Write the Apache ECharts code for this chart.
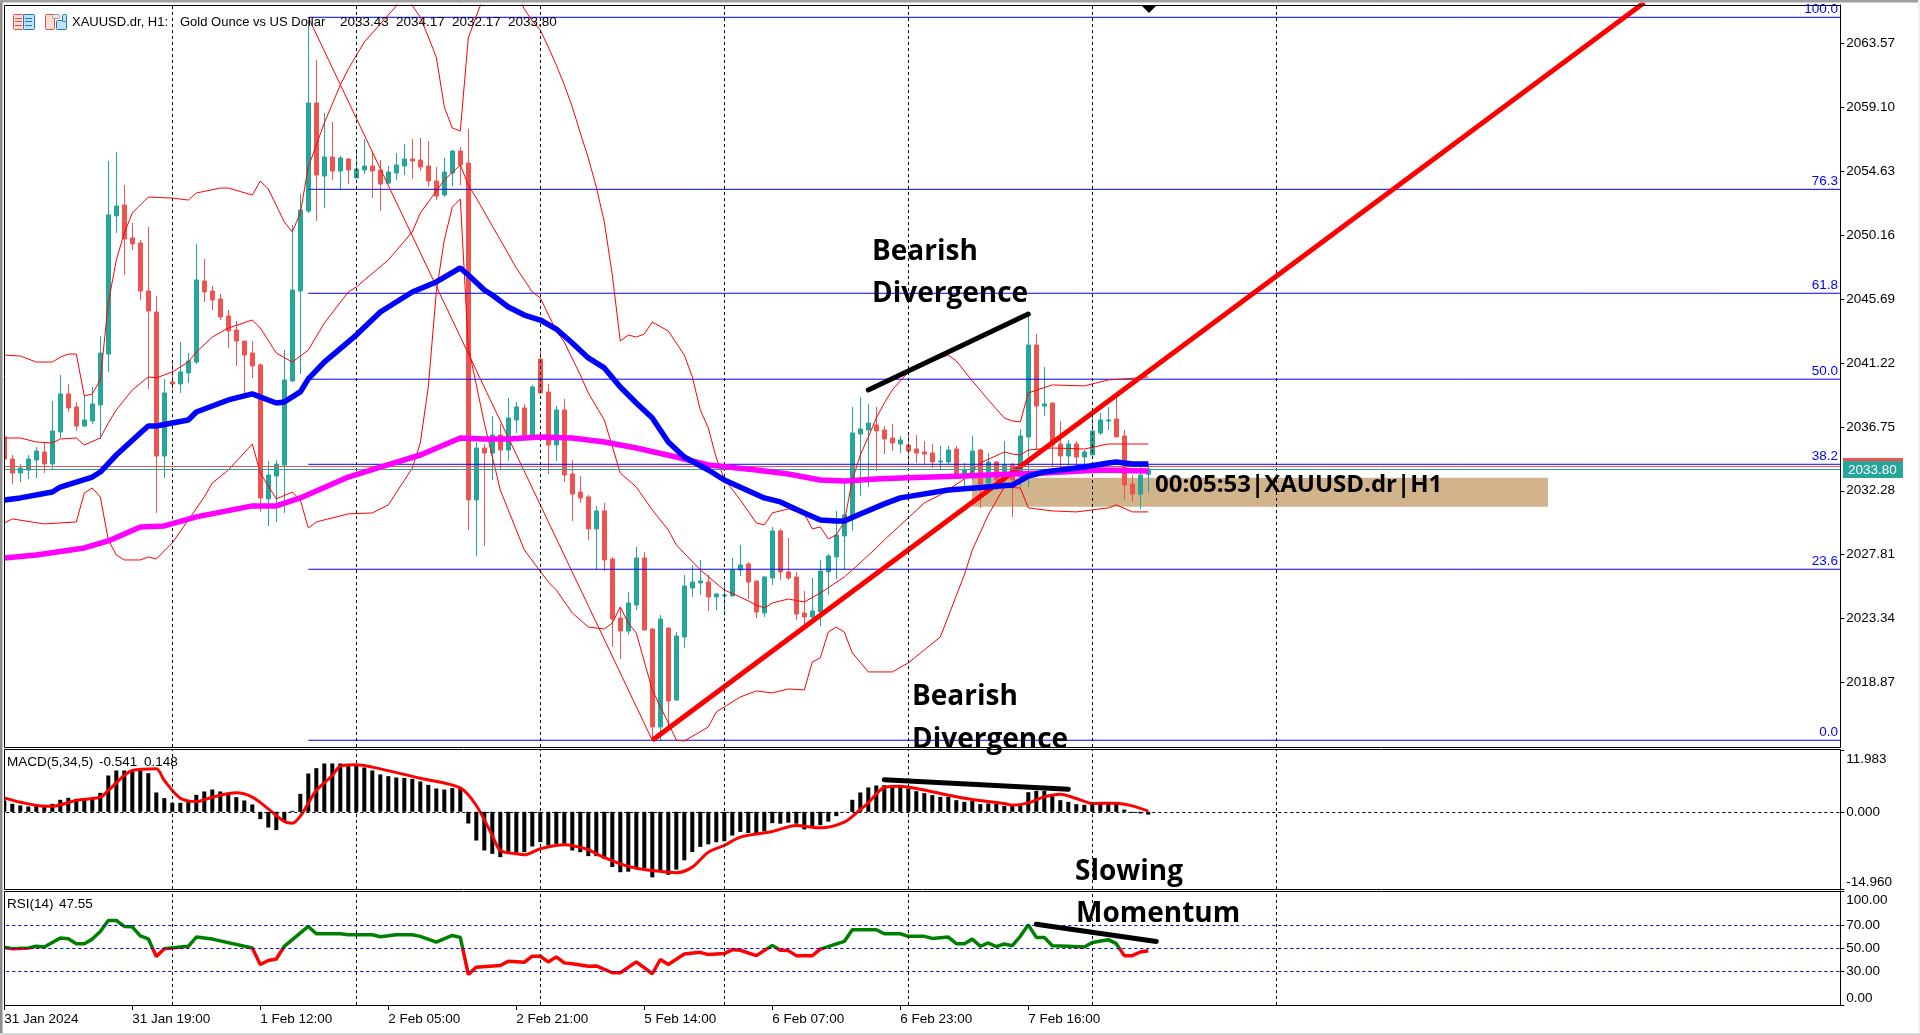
<!DOCTYPE html>
<html>
<head>
<meta charset="utf-8">
<title>XAUUSD.dr H1</title>
<style>
  html, body { margin: 0; padding: 0; background: #fff; }
  #chart { width: 1920px; height: 1035px; }
</style>
<script src="https://cdn.jsdelivr.net/npm/echarts@6/dist/echarts.min.js"></script>
</head>
<body>
<div id="chart"></div>
<script>
const opens = [
  2036.04,2034.50,2033.52,2033.73,2034.43,2034.99,2034.15,2036.39,2039.05,2038.14,
  2036.81,2037.16,2038.28,2041.84,2051.50,2052.26,2049.96,2049.61,2046.25,2044.78,
  2034.71,2039.89,2039.75,2040.52,2041.28,2046.95,2046.25,2045.69,2044.50,2043.52,
  2042.75,2041.91,2041.08,2031.71,2033.31,2034.08,2039.96,2046.25,2051.84,2059.40,
  2054.29,2055.62,2054.64,2055.48,2054.15,2054.71,2054.99,2054.71,2053.80,2054.50,
  2054.99,2055.48,2055.41,2054.99,2053.94,2052.96,2054.50,2056.04,2055.20,2031.64,
  2035.27,2034.92,2036.18,2035.13,2037.23,2038.07,2036.04,2041.49,2039.19,2035.48,
  2037.93,2033.45,2032.19,2031.85,2029.61,2030.87,2027.51,2023.38,2022.47,2024.29,
  2027.58,2022.61,2015.76,2022.68,2017.65,2022.05,2025.48,2025.83,2025.90,2024.85,
  2024.92,2024.92,2026.74,2027.16,2025.97,2023.73,2026.18,2029.47,2026.60,2026.25,
  2023.73,2023.45,2023.80,2026.60,2027.65,2029.12,2030.52,2036.25,2036.53,2036.88,
  2036.53,2035.97,2035.55,2035.48,2035.20,2034.99,2034.92,2034.29,2034.29,2035.20,
  2033.38,2033.52,2035.13,2032.82,2034.29,2033.03,2034.08,2033.24,2036.04,2042.47,
  2038.21,2038.42,2035.55,2034.71,2035.55,2034.64,2034.78,2036.32,2037.16,2037.30,
  2036.11,2032.75,2032.05,2033.43
];
const closes = [
  2034.50,2033.52,2033.87,2034.50,2035.06,2034.15,2036.46,2039.05,2038.07,2036.81,
  2037.23,2038.35,2041.91,2051.57,2052.19,2049.89,2049.54,2046.25,2044.85,2034.71,
  2039.12,2039.75,2040.59,2041.36,2047.02,2046.18,2045.62,2044.43,2043.45,2042.75,
  2041.77,2041.01,2031.78,2033.38,2034.15,2040.03,2046.32,2051.91,2059.40,2054.36,
  2055.62,2054.64,2055.55,2054.71,2054.78,2054.99,2054.64,2053.73,2054.57,2055.06,
  2055.48,2055.34,2054.92,2053.94,2052.89,2054.57,2056.04,2055.06,2031.64,2035.27,
  2034.92,2036.18,2035.13,2037.37,2038.14,2036.04,2039.54,2039.12,2035.48,2037.93,
  2033.38,2032.05,2031.78,2029.61,2030.87,2027.44,2023.31,2022.47,2024.43,2027.58,
  2022.54,2015.76,2023.31,2017.58,2022.12,2025.62,2025.90,2025.97,2024.85,2025.06,
  2024.99,2026.74,2027.09,2025.90,2023.80,2026.25,2029.47,2026.60,2026.18,2023.66,
  2023.45,2023.87,2026.67,2027.72,2029.19,2030.59,2036.32,2036.60,2037.02,2036.46,
  2035.90,2035.62,2035.83,2035.06,2034.92,2034.85,2034.29,2034.36,2035.13,2033.38,
  2033.73,2035.06,2032.75,2034.29,2033.03,2034.08,2033.03,2036.11,2042.47,2038.21,
  2038.35,2035.48,2034.71,2035.55,2034.64,2034.99,2036.46,2037.23,2037.23,2036.04,
  2032.68,2032.05,2033.38,2033.80
];
const highs = [
  2036.04,2034.78,2034.15,2034.78,2035.34,2035.69,2038.56,2040.38,2039.75,2038.49,
  2038.98,2039.54,2043.10,2055.34,2055.97,2053.66,2051.01,2049.82,2050.73,2045.90,
  2040.10,2041.42,2042.68,2041.91,2049.54,2048.49,2046.60,2046.04,2044.92,2044.15,
  2042.75,2042.75,2041.15,2034.36,2034.43,2042.12,2050.87,2053.03,2065.20,2062.40,
  2058.70,2058.07,2055.69,2055.55,2056.18,2056.88,2056.04,2055.41,2054.99,2055.90,
  2056.53,2056.88,2056.95,2056.74,2054.92,2055.55,2056.11,2056.32,2057.58,2035.69,
  2035.55,2037.51,2036.95,2038.77,2038.49,2038.35,2039.68,2042.19,2039.75,2038.21,
  2038.70,2034.43,2033.31,2031.99,2031.22,2031.43,2027.65,2024.15,2025.20,2028.35,
  2027.99,2022.68,2023.59,2022.68,2022.40,2026.39,2027.09,2027.44,2026.39,2025.13,
  2025.69,2027.58,2028.49,2027.30,2025.97,2026.32,2029.75,2029.61,2028.98,2026.60,
  2025.27,2026.18,2027.44,2027.86,2030.87,2032.82,2038.14,2038.84,2038.35,2038.14,
  2036.81,2036.95,2036.11,2036.18,2036.18,2035.76,2035.55,2035.41,2035.41,2035.41,
  2034.22,2036.11,2035.20,2034.92,2034.36,2035.76,2034.22,2036.60,2044.57,2043.24,
  2040.94,2038.42,2037.16,2035.83,2035.76,2035.13,2037.93,2037.72,2038.14,2038.77,
  2036.53,2033.38,2033.94,2034.17
];
const lows = [
  2034.50,2032.75,2032.89,2033.10,2033.17,2033.52,2033.73,2035.97,2037.79,2036.46,
  2036.74,2036.95,2035.90,2040.59,2050.31,2047.37,2049.12,2045.62,2039.40,2030.73,
  2033.17,2039.40,2039.12,2039.82,2041.15,2045.48,2044.92,2044.22,2042.26,2041.01,
  2039.12,2040.17,2030.80,2029.82,2030.10,2030.73,2039.89,2040.45,2051.70,2051.15,
  2052.05,2054.01,2053.38,2053.73,2054.15,2054.43,2052.75,2051.84,2053.73,2054.01,
  2054.36,2054.08,2054.64,2053.52,2052.61,2052.82,2053.59,2053.66,2029.54,2027.72,
  2028.42,2033.03,2033.73,2034.36,2036.32,2036.04,2036.04,2039.12,2033.45,2034.36,
  2032.89,2030.17,2031.43,2028.84,2026.74,2026.67,2021.36,2020.52,2022.19,2023.94,
  2022.54,2014.78,2014.78,2015.55,2017.58,2021.29,2024.85,2024.99,2023.87,2023.94,
  2023.59,2024.92,2026.32,2024.71,2023.38,2023.45,2025.69,2026.04,2026.04,2023.24,
  2022.61,2023.24,2022.82,2024.99,2026.11,2026.74,2029.47,2031.92,2032.54,2033.66,
  2034.85,2035.06,2034.92,2034.29,2034.22,2034.15,2033.87,2033.73,2034.08,2033.38,
  2032.54,2033.03,2031.08,2032.54,2032.33,2032.54,2030.45,2032.54,2032.54,2035.13,
  2037.51,2033.94,2033.94,2033.94,2033.94,2034.08,2034.78,2036.18,2036.53,2036.04,
  2031.64,2031.50,2031.01,2032.17
];

const bbUpper = [
  [0,2041.77],[2,2041.70],[4,2041.28],[6,2041.28],[7,2041.63],[8,2041.84],[9,2041.84],[10,2038.91],[11,2039.05],[12,2040.03],
  [13,2045.41],[14,2048.42],[15,2050.31],[16,2051.70],[18,2052.82],[21,2052.75],[23,2052.61],[24,2053.10],[27,2053.45],[28,2053.45],
  [31,2052.96],[32,2053.94],[33,2053.38],[35,2051.08],[36,2050.38],[37,2051.70],[38,2054.92],[40,2058.00],[42,2060.66],[43,2061.77],
  [45,2063.66],[49,2066.18],[50,2067.16],[51,2066.20],[52,2065.41],[54,2062.61],[55,2059.12],[56,2057.65],[57,2057.44],[58,2063.94],
  [59,2065.48],[60,2066.95],[62,2068.35],[63,2068.35],[64,2067.16],[65,2065.97],[66,2065.13],[67,2064.50],[68,2063.31],[69,2062.05],
  [70,2060.66],[71,2059.12],[72,2057.30],[73,2055.55],[74,2053.52],[75,2051.08],[76,2047.37],[77,2042.75],[78,2043.17],[79,2043.03],
  [80,2043.24],[81,2044.08],[83,2043.45],[84,2042.61],[85,2041.77],[86,2040.24],[87,2037.93],[88,2036.67],[89,2034.57],[90,2033.10],
  [92,2031.64],[94,2030.03],[95,2029.89],[96,2030.73],[98,2031.01],[100,2030.66],[101,2029.61],[102,2029.75],[103,2028.91],[104,2029.19],
  [105,2030.10],[106,2033.03],[107,2034.78],[108,2036.04],[109,2037.37],[110,2038.42],[111,2039.33],[113,2040.59],[115,2041.15],[118,2041.77],
  [119,2041.36],[121,2039.96],[123,2038.63],[125,2037.37],[126,2037.16],[127,2037.09],[128,2039.12],[131,2039.68],[135,2039.61],[138,2040.03],
  [140,2040.10],[143,2040.24]
];
const bbMiddle = [
  [0,2035.97],[2,2035.97],[4,2035.69],[6,2035.62],[7,2035.90],[9,2035.97],[10,2035.48],[12,2035.97],[13,2037.02],[14,2037.93],
  [16,2039.33],[18,2040.24],[19,2040.17],[21,2040.59],[23,2041.28],[24,2041.98],[26,2043.03],[28,2043.66],[31,2044.22],[32,2043.66],
  [34,2041.91],[36,2041.28],[38,2042.12],[40,2044.01],[43,2046.18],[44,2046.53],[48,2048.42],[51,2050.38],[52,2051.70],[55,2054.01],
  [57,2055.06],[58,2053.66],[59,2052.75],[61,2050.80],[64,2047.86],[66,2046.18],[67,2045.76],[69,2043.45],[70,2042.68],[72,2040.38],
  [73,2039.12],[75,2037.23],[77,2033.52],[79,2032.54],[81,2030.94],[83,2029.54],[84,2028.49],[87,2026.74],[90,2025.34],[92,2024.85],
  [94,2024.29],[95,2024.08],[96,2024.43],[98,2024.71],[100,2024.50],[102,2025.13],[105,2026.25],[106,2026.74],[109,2028.28],[110,2028.84],
  [115,2031.43],[117,2031.99],[120,2033.10],[122,2034.22],[125,2034.99],[126,2034.85],[127,2034.78],[128,2035.13],[131,2035.27],[135,2035.20],
  [138,2035.55],[140,2035.55],[143,2035.55]
];
const bbLower = [
  [0,2030.03],[1,2030.31],[5,2029.96],[9,2030.10],[10,2032.12],[11,2032.47],[12,2031.85],[13,2028.84],[14,2027.79],[15,2027.44],
  [17,2027.44],[18,2027.65],[19,2027.51],[21,2028.63],[25,2031.85],[26,2032.82],[28,2033.73],[31,2035.55],[32,2033.52],[34,2031.71],
  [36,2032.19],[37,2031.64],[38,2029.68],[39,2030.10],[43,2030.66],[46,2030.73],[48,2031.29],[51,2033.87],[52,2035.62],[53,2039.54],
  [54,2046.18],[55,2049.82],[56,2052.12],[57,2052.68],[58,2042.33],[59,2039.68],[60,2037.02],[62,2032.33],[64,2029.54],[65,2028.14],
  [68,2025.90],[69,2025.34],[71,2023.73],[73,2022.75],[75,2022.61],[76,2023.03],[77,2024.15],[78,2023.03],[79,2022.33],[81,2018.35],
  [83,2016.04],[84,2014.85],[85,2014.78],[88,2015.76],[89,2016.81],[92,2017.86],[94,2018.28],[96,2018.14],[98,2018.42],[100,2018.35],
  [101,2020.31],[102,2020.59],[103,2022.40],[104,2022.75],[105,2022.40],[106,2020.94],[108,2019.61],[111,2019.61],[113,2020.24],[115,2021.15],
  [117,2022.05],[120,2026.39],[121,2028.14],[123,2030.59],[125,2032.54],[127,2032.47],[128,2031.08],[131,2030.87],[134,2030.80],[138,2031.08],
  [139,2031.29],[141,2030.80],[143,2030.80]
];
const maBlue = [
  [0,2031.64],[2,2031.78],[6,2032.19],[7,2032.54],[11,2033.24],[12,2033.59],[14,2034.78],[17,2036.32],[18,2036.81],[19,2036.81],
  [23,2037.23],[24,2037.79],[28,2038.63],[31,2039.05],[33,2038.63],[34,2038.42],[35,2038.49],[37,2039.19],[38,2040.10],[40,2041.28],
  [44,2043.17],[47,2044.78],[51,2046.18],[54,2046.88],[57,2047.86],[58,2047.37],[60,2046.32],[61,2045.97],[63,2045.13],[65,2044.57],
  [67,2044.22],[69,2043.59],[71,2042.61],[73,2041.57],[75,2040.87],[77,2039.54],[79,2038.42],[81,2037.37],[83,2035.69],[85,2034.64],
  [88,2033.73],[90,2033.03],[95,2031.78],[97,2031.50],[100,2030.73],[102,2030.24],[104,2030.17],[105,2030.17],[107,2030.66],[110,2031.36],
  [112,2031.78],[118,2032.33],[126,2032.68],[128,2033.31],[130,2033.59],[135,2033.94],[138,2034.22],[139,2034.29],[141,2034.15],[143,2034.15]
];
const maMagenta = [
  [0,2027.58],[4,2027.79],[10,2028.28],[13,2028.77],[17,2029.75],[20,2029.82],[24,2030.45],[31,2031.22],[34,2031.22],[37,2031.78],
  [41,2032.75],[43,2033.24],[47,2033.94],[52,2034.78],[57,2035.97],[60,2035.90],[63,2035.90],[67,2036.04],[71,2035.97],[75,2035.69],
  [79,2035.27],[84,2034.64],[88,2034.08],[94,2033.73],[98,2033.45],[102,2033.03],[105,2032.96],[109,2033.10],[112,2033.17],[120,2033.31],
  [126,2033.45],[130,2033.52],[137,2033.73],[143,2033.66]
];

const macdHist = [
  2.2,1.55,1.23,1.03,1.23,1.36,1.55,2.33,2.71,2.52,
  2.33,2.65,3.68,7.04,8.01,8.01,8.01,8.01,7.49,3.75,
  2.65,1.74,1.74,1.87,3.29,3.94,4.33,3.94,3.49,2.84,
  2.2,1.42,-1.42,-3.04,-3.55,-1.87,0.19,3.49,7.43,8.46,
  9.37,9.37,9.37,8.85,8.98,8.59,8.01,7.24,6.91,6.65,
  6.59,6.4,5.88,5.23,4.52,4.33,4.59,4.78,-2.26,-5.56,
  -7.49,-8.14,-8.79,-8.14,-7.95,-7.82,-6.72,-5.88,-6.52,-6.2,
  -6.2,-7.49,-7.82,-8.59,-8.59,-9.1,-10.7,-11.7,-11.6,-10.7,
  -11.0,-12.7,-11.4,-12.2,-11.2,-9.4,-7.8,-6.8,-6.3,-5.9,
  -5.7,-4.6,-3.9,-4.1,-4.3,-3.8,-2.2,-2.3,-2.1,-2.3,
  -3.4,-2.8,-2.6,-1.9,-0.84,-0.06,2.33,3.75,4.72,5.1,
  5.17,4.85,4.97,4.52,4.0,3.62,3.23,2.9,2.9,2.26,
  1.94,2.13,1.49,1.62,1.49,1.16,1.16,1.29,3.81,4.07,
  4.07,3.04,2.26,1.94,1.49,1.36,1.74,1.74,1.81,1.74,
  0.45,-0.19,-0.32,-0.541
];
const macdSignal = [
  [0,2.71],[2,1.87],[5,1.1],[6,1.1],[9,2.2],[12,2.84],[13,4.13],[16,8.01],[19,8.33],[20,6.07],
  [22,2.65],[24,2.0],[26,2.84],[29,3.68],[31,2.84],[33,0.58],[35,-1.87],[36,-2.2],[37,-0.84],[39,4.13],
  [41,7.04],[42,8.85],[44,9.11],[47,8.33],[52,6.52],[57,4.65],[59,1.23],[61,-4.59],[62,-7.49],[64,-8.14],
  [65,-8.33],[67,-7.17],[70,-6.4],[73,-7.3],[74,-8.14],[77,-10.08],[79,-10.92],[81,-11.37],[84,-11.82],[86,-10.72],
  [88,-7.82],[90,-6.52],[92,-4.91],[96,-3.81],[99,-2.65],[102,-3.1],[105,-2],[107,0.45],[108,1.74],[110,4.72],
  [112,4.97],[114,4.52],[117,3.55],[121,2.39],[125,1.62],[126,1.29],[128,1.74],[130,2.9],[132,3.42],[134,2.58],
  [136,1.62],[139,1.68],[141,1.16],[143,0.148]
];
const rsiLine = [
  [0,50.6],[1,49.4],[3,50],[4,51.5],[5,50.9],[7,58.7],[8,58.1],[9,53.8],[10,53.8],[11,57.8],
  [12,64.5],[13,74.1],[14,74.1],[15,68.9],[16,68.6],[17,60.7],[18,58.1],[19,42.5],[20,49.4],[22,50.9],
  [23,51.5],[24,59.6],[26,57.8],[31,50],[32,35.5],[33,39],[34,40.4],[35,51.5],[36,57.3],[38,68.9],
  [39,62.5],[42,62.5],[43,61.6],[46,61.6],[47,59.9],[48,60.7],[49,61.6],[51,61.6],[52,60.2],[54,55.2],
  [56,61],[57,59.3],[58,26.8],[59,33.2],[62,34.6],[63,38.4],[65,37.5],[66,42.8],[67,42.8],[68,37.8],
  [69,42.2],[70,36.95],[71,36.1],[73,34],[74,34.3],[76,28.3],[77,28.3],[79,37.8],[81,27.4],[82,39.9],
  [83,35.5],[85,44.8],[87,46.2],[88,44.2],[90,45.1],[91,48.6],[92,48],[94,43.3],[96,52.3],[97,48],
  [98,47.7],[99,43.3],[101,43.3],[102,49],[105,55.8],[106,66],[109,66],[110,62.5],[112,62.5],[113,60.2],
  [115,60.2],[116,58.4],[118,59.6],[119,53.8],[120,53.8],[121,57.8],[122,51.5],[123,54.4],[124,51.2],[125,53.5],
  [126,52],[127,60.2],[128,70.3],[129,59.3],[130,59.3],[131,52],[133,51.5],[135,50.9],[136,54.9],[138,57.3],
  [139,53.8],[140,43.3],[141,43.3],[142,46.5],[143,47.55]
];

const fibLevels = [2065.39, 2053.36, 2046.09, 2040.08, 2034.13, 2026.79, 2014.83];
const fibTrend = [[38.5, 2065.39], [81.5, 2014.83]];
const redTrend = [[81, 2014.83], [205, 2066.42]];
const priceDivergence = [[108, 2039.33], [128, 2044.64]];
const macdDivergence = [[110, 6.22], [133, 4.36]];
const rsiDivergence = [[129, 70.9], [144, 55.7]];
const tanBox = [[121.46, 2033.19, 193.46, 2031.17]];
const askPrice = 2033.96;
const bidPrice = 2033.80;

const priceTicks = [2018.87, 2023.34, 2027.81, 2032.28, 2036.75, 2041.22, 2045.69, 2050.16, 2054.63, 2059.10, 2063.57];
const macdTicks = [-14.96, 0, 11.983];
const rsiTicks = [0, 30, 50, 70, 100];
const rsiLevels = [30, 50, 70];
const timeTickBars = [0, 16, 32, 48, 64, 80, 96, 112, 128];
const timeTickLabels = ["31 Jan 2024", "31 Jan 19:00", "1 Feb 12:00", "2 Feb 05:00", "2 Feb 21:00", "5 Feb 14:00", "6 Feb 07:00", "6 Feb 23:00", "7 Feb 16:00"];
const daySeparators = [21, 44, 67, 90, 113, 136, 159];
const slotCount = 230;
const categories = Array.from({ length: slotCount }, (_, i) => String(i));

const UP = "#26a69a";
const DOWN = "#ef5350";
const AXIS_FONT = "Liberation Sans";
const NOTE_FONT = '700 28px "Open Sans"';
const TIMER_FONT = '700 24px "Open Sans"';
const CHART_LEFT = 0.3;
const CHART_WIDTH = 1840;

const chart = echarts.init(document.getElementById("chart"), null, { renderer: "canvas" });

function categoryAxis(gridIndex, showLabels) {
  const isTick = (i) => timeTickBars.includes(i);
  return {
    type: "category",
    gridIndex: gridIndex,
    data: categories,
    boundaryGap: true,
    axisLine: { show: false },
    splitLine: { show: false },
    axisTick: {
      show: showLabels,
      alignWithLabel: true,
      interval: (i) => isTick(i),
      length: 5,
      lineStyle: { color: "#000" },
    },
    axisLabel: {
      show: showLabels,
      interval: (i) => isTick(i),
      hideOverlap: false,
      align: "left",
      margin: 7,
      color: "#000",
      fontFamily: AXIS_FONT,
      fontSize: 13.5,
      formatter: (v) => {
        const pos = timeTickBars.indexOf(Number(v));
        return pos >= 0 ? timeTickLabels[pos] : "";
      },
    },
  };
}

function valueAxis(gridIndex, min, max, ticks, digits, clampEnds) {
  const label = {
    customValues: ticks,
    margin: 6,
    color: "#000",
    fontFamily: AXIS_FONT,
    fontSize: 13.5,
    padding: [2, 0, 0, 0],
    formatter: (v) => Number(v).toFixed(digits),
  };
  if (clampEnds) {
    label.verticalAlignMinLabel = "bottom";
    label.verticalAlignMaxLabel = "top";
  }
  return {
    type: "value",
    gridIndex: gridIndex,
    position: "right",
    min: min,
    max: max,
    scale: true,
    splitLine: { show: false },
    axisLine: { show: true, onZero: false, lineStyle: { color: "#000", width: 1 } },
    axisTick: { show: true, length: 4, customValues: ticks, lineStyle: { color: "#000" } },
    axisLabel: label,
  };
}

const thinLine = (data, extra) => Object.assign({
  type: "line",
  data: data,
  symbol: "none",
  silent: true,
  animation: false,
  lineStyle: { color: "#ff0000", width: 1 },
  z: 3,
}, extra);

const separators = (xAxisIndex, yAxisIndex) => ({
  type: "line",
  xAxisIndex: xAxisIndex,
  yAxisIndex: yAxisIndex,
  data: [],
  silent: true,
  z: 1,
  markLine: {
    silent: true,
    symbol: "none",
    animation: false,
    label: { show: false },
    lineStyle: { color: "#000", type: [3, 3], width: 1 },
    data: daySeparators.map((i) => ({ xAxis: i })),
  },
});

const series = [
  {
    type: "custom",
    xAxisIndex: 3,
    yAxisIndex: 0,
    silent: true,
    animation: false,
    z: 0,
    data: tanBox,
    renderItem: (params, api) => {
      const a = api.coord([api.value(0), api.value(1)]);
      const b = api.coord([api.value(2), api.value(3)]);
      return {
        type: "rect",
        shape: { x: a[0], y: a[1], width: b[0] - a[0], height: b[1] - a[1] },
        style: { fill: "#d2b48c" },
      };
    },
  },
  separators(0, 0),
  separators(1, 1),
  separators(2, 2),
  {
    type: "line",
    xAxisIndex: 0,
    yAxisIndex: 0,
    data: [],
    silent: true,
    z: 1,
    markLine: {
      silent: true,
      symbol: "none",
      animation: false,
      label: { show: false },
      data: [
        { yAxis: askPrice, lineStyle: { color: DOWN, type: "solid", width: 1 } },
        { yAxis: bidPrice, lineStyle: { color: UP, type: "solid", width: 1 } },
      ],
    },
  },
  {
    type: "candlestick",
    xAxisIndex: 0,
    yAxisIndex: 0,
    barWidth: 5,
    silent: true,
    animation: false,
    z: 2,
    itemStyle: { color: UP, color0: DOWN, borderColor: UP, borderColor0: DOWN, borderColorDoji: UP, borderWidth: 1 },
    data: opens.map((o, i) => [o, closes[i], lows[i], highs[i]]),
  },
];

fibLevels.forEach((level) => {
  series.push(thinLine([[38.5, level], [230, level]], {
    xAxisIndex: 3, yAxisIndex: 0, lineStyle: { color: "#0000ff", width: 1 }, z: 3,
  }));
});
series.push(thinLine(fibTrend, { xAxisIndex: 3, yAxisIndex: 0 }));
series.push(thinLine(bbUpper, { xAxisIndex: 0, yAxisIndex: 0 }));
series.push(thinLine(bbMiddle, { xAxisIndex: 0, yAxisIndex: 0 }));
series.push(thinLine(bbLower, { xAxisIndex: 0, yAxisIndex: 0 }));
series.push(thinLine(redTrend, { xAxisIndex: 0, yAxisIndex: 0, lineStyle: { color: "#ff0000", width: 5 }, z: 4 }));
series.push(thinLine(maMagenta, { xAxisIndex: 0, yAxisIndex: 0, lineStyle: { color: "#ff00ff", width: 5.5 }, z: 5 }));
series.push(thinLine(maBlue, { xAxisIndex: 0, yAxisIndex: 0, lineStyle: { color: "#0000ff", width: 5.5 }, z: 5 }));
series.push(thinLine(priceDivergence, { xAxisIndex: 0, yAxisIndex: 0, lineStyle: { color: "#000", width: 5, cap: "round" }, z: 6 }));

series.push({
  type: "bar",
  xAxisIndex: 1,
  yAxisIndex: 1,
  barWidth: 4,
  silent: true,
  animation: false,
  itemStyle: { color: "#000" },
  data: macdHist,
  z: 2,
  markLine: {
    silent: true,
    symbol: "none",
    animation: false,
    label: { show: false },
    lineStyle: { color: "#000", type: [3, 3], width: 1 },
    data: [{ yAxis: 0 }],
  },
});
series.push(thinLine(macdSignal, { xAxisIndex: 1, yAxisIndex: 1, smooth: 0.3, lineStyle: { color: "#ff0000", width: 3 }, z: 4 }));
series.push(thinLine(macdDivergence, { xAxisIndex: 1, yAxisIndex: 1, lineStyle: { color: "#000", width: 5, cap: "round" }, z: 5 }));

series.push({
  type: "line",
  xAxisIndex: 2,
  yAxisIndex: 2,
  data: [],
  silent: true,
  z: 1,
  markLine: {
    silent: true,
    symbol: "none",
    animation: false,
    label: { show: false },
    lineStyle: { color: "#0000c8", type: [3, 3], width: 1 },
    data: rsiLevels.map((v) => ({ yAxis: v })),
  },
});
// green above the 50 level, red below it: the level sits halfway down the pane
series.push(thinLine(rsiLine, {
  xAxisIndex: 2,
  yAxisIndex: 2,
  lineStyle: {
    width: 3.5,
    color: {
      type: "linear", x: 0, y: 891, x2: 0, y2: 1005, global: true,
      colorStops: [
        { offset: 0, color: "#008000" },
        { offset: 0.5, color: "#008000" },
        { offset: 0.5, color: "#ff0000" },
        { offset: 1, color: "#ff0000" },
      ],
    },
  },
  z: 4,
}));
series.push(thinLine(rsiDivergence, { xAxisIndex: 2, yAxisIndex: 2, lineStyle: { color: "#000", width: 5, cap: "round" }, z: 5 }));

const smallText = (text, x, y, extra) => ({
  type: "text",
  z: 50,
  silent: true,
  style: Object.assign({
    text: text, x: x, y: y, fill: "#000",
    font: "13px " + AXIS_FONT, verticalAlign: "middle",
  }, extra),
});
const wideText = (text, x, y) => smallText(text, x, y, { font: "13.5px " + AXIS_FONT });
const noteText = (text, x, y, font) => ({
  type: "text",
  z: 50,
  silent: true,
  style: { text: text, x: x, y: y, fill: "#000", font: font || NOTE_FONT, verticalAlign: "middle" },
});
const frame = (y, h) => ({
  type: "rect",
  z: 40,
  silent: true,
  shape: { x: 4.5, y: y + 0.5, width: 1836, height: h },
  style: { fill: "none", stroke: "#000", lineWidth: 1 },
});
const fibLabel = (text, y) => smallText(text, 1838, y, { fill: "#0000ff", align: "right", font: "13.5px " + AXIS_FONT });
const box = (x, y, w, h, fill, stroke) => ({
  type: "rect", z: 45, silent: true,
  shape: { x: x + 0.5, y: y + 0.5, width: w, height: h, r: 1 },
  style: { fill: fill, stroke: stroke, lineWidth: 1 },
});
const solid = (x, y, w, h, fill, z) => ({
  type: "rect", z: z || 45, silent: true,
  shape: { x: x, y: y, width: w, height: h },
  style: { fill: fill },
});

const graphics = [
  // window chrome and pane frames
  solid(0, 0, 4, 1035, "#ffffff", 39),
  solid(0, 0, 2.5, 1035, "#8c8c8c", 46),
  solid(0, 0, 1920, 2.5, "#a0a0a0", 46),
  solid(1918, 0, 2, 1035, "#f0f0f0", 46),
  solid(0, 1033, 1920, 2, "#d8d8d8", 46),
  frame(5, 742),
  frame(749, 140),
  frame(891, 114),
  // toolbar icons
  box(13, 14, 10, 15, "#ffdcd2", "#e05050"),
  box(23, 14, 11, 15, "#bfe3fb", "#1f77b4"),
  solid(15, 18, 7, 1, "#e05050"),
  solid(15, 21, 7, 1, "#e05050"),
  solid(15, 25, 7, 1, "#e05050"),
  solid(25, 18, 7, 1, "#1f77b4"),
  solid(25, 21, 7, 1, "#1f77b4"),
  solid(25, 25, 7, 1, "#1f77b4"),
  box(45, 14, 9, 15, "#ffdcd2", "#e05050"),
  box(56, 20, 10, 9, "#bfe3fb", "#1f77b4"),
  box(52, 14, 7, 4, "#e8e8e8", "#9a9a9a"),
  box(62, 14, 4, 7, "#bfe3fb", "#1f77b4"),
  // header and indicator titles
  smallText("XAUUSD.dr, H1:", 72, 22),
  smallText("Gold Ounce vs US Dollar", 180, 22),
  wideText("2033.43", 340, 22),
  wideText("2034.17", 396, 22),
  wideText("2032.17", 452, 22),
  wideText("2033.80", 508, 22),
  wideText("MACD(5,34,5)", 7, 762),
  wideText("-0.541", 99, 762),
  wideText("0.148", 144, 762),
  wideText("RSI(14)", 7, 904),
  wideText("47.55", 59, 904),
  // fibonacci level labels
  fibLabel("100.0", 9),
  fibLabel("76.3", 181),
  fibLabel("61.8", 285),
  fibLabel("50.0", 371),
  fibLabel("38.2", 456),
  fibLabel("23.6", 561),
  fibLabel("0.0", 732),
  // written notes
  noteText("Bearish", 872, 252),
  noteText("Divergence", 872, 294),
  noteText("Bearish", 912, 697),
  noteText("Divergence", 912, 740),
  noteText("Slowing", 1075, 872),
  noteText("Momentum", 1076, 914),
  noteText("00:05:53|XAUUSD.dr|H1", 1155, 485, TIMER_FONT),
  // shift marker and current price tag
  {
    type: "polygon", z: 45, silent: true,
    shape: { points: [[1142, 6], [1156, 6], [1149, 13]] },
    style: { fill: "#000" },
  },
  solid(1843, 458, 60, 3, DOWN),
  solid(1843, 461, 60, 17, UP),
  wideText("2033.80", 0, 0),
];
graphics[graphics.length - 1].style.x = 1848;
graphics[graphics.length - 1].style.y = 470;
graphics[graphics.length - 1].style.fill = "#fff";

chart.setOption({
  animation: false,
  backgroundColor: "#ffffff",
  grid: [
    { left: CHART_LEFT, width: CHART_WIDTH, top: 5, height: 742 },
    { left: CHART_LEFT, width: CHART_WIDTH, top: 750, height: 139 },
    { left: CHART_LEFT, width: CHART_WIDTH, top: 891, height: 114 },
  ],
  xAxis: [
    categoryAxis(0, false),
    categoryAxis(1, false),
    categoryAxis(2, true),
    { type: "value", gridIndex: 0, min: 0, max: slotCount, show: false },
  ],
  yAxis: [
    valueAxis(0, 2014.36, 2066.25, priceTicks, 2, false),
    valueAxis(1, -14.96, 11.983, macdTicks, 3, true),
    valueAxis(2, 0, 100, rsiTicks, 2, true),
  ],
  series: series,
  graphic: graphics,
});
</script>
</body>
</html>
